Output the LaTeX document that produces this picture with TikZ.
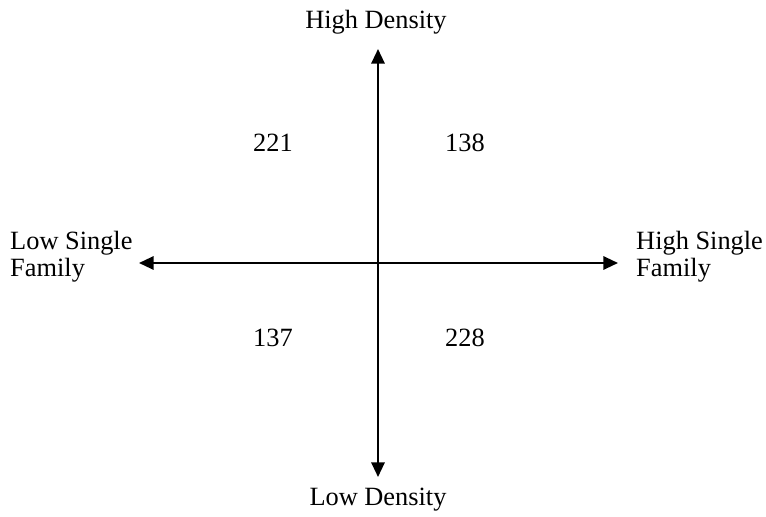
\documentclass[tikz,border=0pt]{standalone}
\usepackage{fontspec}
\setmainfont{Liberation Serif}
\usetikzlibrary{arrows.meta, positioning}

\begin{document}
\begin{tikzpicture}[
    x=0.03cm, y=-0.03cm,
    axislabel/.style={font=\fontsize{22.5}{23}\selectfont, align=center, inner sep=0pt},
    sidelabel/.style={font=\fontsize{22.5}{23}\selectfont, align=left, inner sep=0pt, anchor=west},
    count/.style={font=\fontsize{22.5}{23}\selectfont, inner sep=0pt},
    axis/.style={{Triangle[length=4.4mm, width=4mm]}-{Triangle[length=4.4mm, width=4mm]}, line width=1.8pt}
]
\useasboundingbox (0,0) rectangle (766,517);

% Axis ends
\coordinate (top) at (378,49);
\coordinate (bottom) at (378,477);
\coordinate (left) at (139,263);
\coordinate (right) at (618,263);

% Axis labels
\node[axislabel] (high) at (376,22) {High Density};
\node[axislabel] (low) at (378,500) {Low Density};
\node[sidelabel] (lowsf) at (10,257) {Low Single\\Family};
\node[sidelabel] (highsf) at (636,257) {High Single\\Family};

% Quadrant counts
\node[count] (q1) at (273,143) {221};
\node[count] (q2) at (465,143) {138};
\node[count] (q3) at (273,338) {137};
\node[count] (q4) at (465,338) {228};

% Axes
\draw[axis] (bottom) -- (top);
\draw[axis] (left) -- (right);

\end{tikzpicture}
\end{document}
